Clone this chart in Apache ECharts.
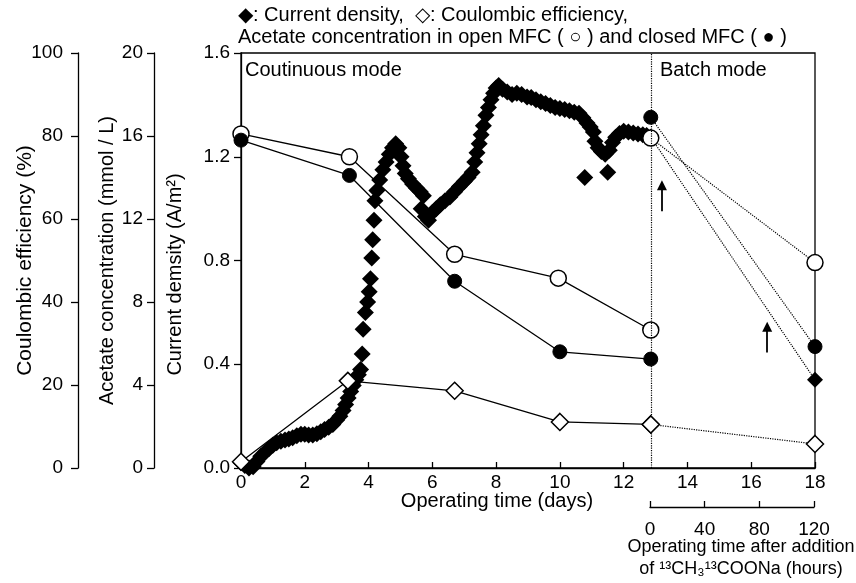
<!DOCTYPE html>
<html>
<head>
<meta charset="utf-8">
<script src="https://cdn.jsdelivr.net/npm/echarts@6/dist/echarts.min.js"></script>
<style>
html, body { margin: 0; padding: 0; background: #fff; }
#chart { width: 856px; height: 583px; }
</style>
</head>
<body>
<div id="chart"></div>
<script>
// current density (A/m2) vs operating time (days)
var currentDensity = [
    [0.0, 0.02], [0.12, 0.01], [0.25, 0.0], [0.38, 0.005], [0.5, 0.025], [0.62, 0.045],
    [0.75, 0.06], [0.88, 0.075], [1.0, 0.088], [1.12, 0.097], [1.25, 0.103], [1.38, 0.108],
    [1.5, 0.112], [1.62, 0.117], [1.75, 0.124], [1.88, 0.13], [2.0, 0.13], [2.12, 0.127],
    [2.25, 0.127], [2.38, 0.132], [2.5, 0.14], [2.62, 0.148], [2.75, 0.157], [2.88, 0.168],
    [3.0, 0.185], [3.1, 0.2], [3.2, 0.222], [3.28, 0.245], [3.36, 0.27], [3.44, 0.295],
    [3.52, 0.318], [3.6, 0.34], [3.68, 0.36], [3.75, 0.38], [3.8, 0.44], [3.83, 0.535],
    [3.9, 0.6], [3.97, 0.64], [4.02, 0.68], [4.06, 0.73], [4.1, 0.81], [4.13, 0.88],
    [4.17, 0.955], [4.2, 1.03], [4.26, 1.07], [4.35, 1.11], [4.45, 1.15], [4.55, 1.18],
    [4.65, 1.21], [4.75, 1.235], [4.85, 1.25], [4.95, 1.235], [5.02, 1.2], [5.08, 1.165],
    [5.15, 1.135], [5.25, 1.115], [5.38, 1.095], [5.5, 1.08], [5.62, 1.065], [5.72, 1.05],
    [5.65, 1.0], [5.78, 0.97], [5.88, 0.955], [6.0, 0.985], [6.12, 1.0], [6.25, 1.015],
    [6.4, 1.03], [6.55, 1.045], [6.7, 1.065], [6.85, 1.085], [7.0, 1.105], [7.12, 1.12],
    [7.25, 1.14], [7.33, 1.18], [7.4, 1.215], [7.47, 1.25], [7.53, 1.285], [7.6, 1.32],
    [7.68, 1.36], [7.76, 1.39], [7.84, 1.42], [7.92, 1.445], [8.0, 1.465], [8.08, 1.475],
    [8.2, 1.46], [8.35, 1.45], [8.5, 1.44], [8.65, 1.445], [8.8, 1.44], [8.97, 1.43],
    [9.1, 1.428], [9.25, 1.42], [9.4, 1.412], [9.55, 1.405], [9.7, 1.398], [9.85, 1.39],
    [10.0, 1.386], [10.15, 1.382], [10.3, 1.377], [10.45, 1.372], [10.6, 1.368], [10.72, 1.35],
    [10.85, 1.33], [10.95, 1.315], [11.05, 1.295], [11.1, 1.26], [11.2, 1.235], [11.3, 1.22],
    [11.42, 1.21], [10.78, 1.12], [11.5, 1.14], [11.55, 1.225], [11.65, 1.255], [11.75, 1.275],
    [11.87, 1.29], [12.0, 1.298], [12.15, 1.295], [12.3, 1.292], [12.45, 1.288], [12.6, 1.285],
    [12.72, 1.282], [12.85, 1.275]
];
var currentDensityBatch = [[12.85, 1.275], [18, 0.34]];

// acetate (mmol/L)
var acetateOpen = [[0, 16.1], [3.4, 15.0], [6.7, 10.3], [9.95, 9.15], [12.85, 6.65]];
var acetateOpenBatch = [[12.85, 15.9], [18, 9.9]];
var acetateClosed = [[0, 15.8], [3.4, 14.1], [6.7, 9.0], [10, 5.6], [12.85, 5.25]];
var acetateClosedBatch = [[12.85, 16.9], [18, 5.85]];

// coulombic efficiency (%)
var coulombicEff = [[0, 1.5], [3.35, 21], [6.7, 18.6], [10, 11.1], [12.85, 10.5]];
var coulombicEffBatch = [[12.85, 10.5], [18, 5.8]];

var batchStartDay = 12.85;
var dayRange = [0, 18, 2];
var hourRange = [0, 120, 40];
// arrows drawn in current density units
var arrows = [
    [[13.2, 0.99], [13.2, 1.09]],
    [[16.5, 0.445], [16.5, 0.545]]
];

var FONT = 'Liberation Sans, Arial, sans-serif';

var labelStyle = { color: '#000', fontSize: 19, fontFamily: FONT };
var dottedLine = { color: '#000', width: 1.2, type: 'dotted' };
var solidLine = { color: '#000', width: 1.3 };

function leftAxis(name, min, max, interval, offset, gap, margin, nameSize, namePad, fmt) {
    return {
        type: 'value', position: 'left', offset: offset,
        min: min, max: max, interval: interval,
        name: name, nameLocation: 'middle', nameGap: gap, nameMoveOverlap: false,
        nameTextStyle: { color: '#000', fontSize: nameSize, fontFamily: FONT, padding: namePad },
        axisLine: { show: true, lineStyle: { color: '#000', width: 1.3 } },
        axisTick: { show: true, inside: false, length: 7, lineStyle: { color: '#000', width: 1.3 } },
        axisLabel: Object.assign({ margin: margin, formatter: fmt }, labelStyle),
        splitLine: { show: false }
    };
}

function text(x, y, str, size, align) {
    return {
        type: 'text', x: x, y: y, silent: true,
        style: {
            text: str, fill: '#000', fontSize: size, fontFamily: FONT,
            align: align || 'left', textAlign: align || 'left',
            verticalAlign: 'middle', textVerticalAlign: 'middle'
        }
    };
}

var openSymbol = { color: '#fff', borderColor: '#000', borderWidth: 1.5, opacity: 1 };
var closedSymbol = { color: '#000', borderColor: '#000', borderWidth: 1, opacity: 1 };

var option = {
    animation: false,
    backgroundColor: '#fff',
    grid: [
        {
            left: 241, right: 41, top: 53, bottom: 115, containLabel: false, outerBoundsMode: 'none',
            show: true, borderColor: '#000', borderWidth: 1.3
        },
        { left: 650, right: 42, bottom: 76, height: 1, containLabel: false, outerBoundsMode: 'none' }
    ],
    xAxis: [
        {
            type: 'value', gridIndex: 0, min: dayRange[0], max: dayRange[1], interval: dayRange[2],
            axisLine: { show: true, lineStyle: { color: '#000', width: 1.3 } },
            axisTick: { show: true, inside: true, length: 6, lineStyle: { color: '#000', width: 1.3 } },
            axisLabel: Object.assign({ margin: 5 }, labelStyle),
            splitLine: { show: false }
        },
        {
            type: 'value', gridIndex: 1, min: hourRange[0], max: hourRange[1], interval: hourRange[2],
            axisLine: { show: true, lineStyle: { color: '#000', width: 1.3 } },
            axisTick: { show: true, inside: true, length: 6, lineStyle: { color: '#000', width: 1.3 } },
            axisLabel: Object.assign({ margin: 13 }, labelStyle),
            splitLine: { show: false }
        }
    ],
    yAxis: [
        leftAxis('Current demsity (A/m\u00b2)', 0, 1.6, 0.4, 0, 56, 11, 20, [0, 28, 0, 0],
            function (v) { return v.toFixed(1); }),
        leftAxis('Acetate concentration (mmol / L)', 0, 20, 4, 87, 37, 11, 20, 0),
        leftAxis('Coulombic efficiency (%)', 0, 100, 20, 163, 42, 15, 21, 0),
        { type: 'value', gridIndex: 1, show: false, min: 0, max: 1 }
    ],
    graphic: [
        text(238, 15, '\u25c6: Current density,  \u25c7: Coulombic efficiency,', 20),
        text(238, 37, 'Acetate concentration in open MFC ( \u25cb ) and closed MFC ( \u25cf )', 20),
        text(245, 70, 'Coutinuous mode', 20),
        text(660, 70, 'Batch mode', 20),
        text(497, 501, 'Operating time (days)', 20, 'center'),
        text(741, 547, 'Operating time after addition', 18, 'center'),
        text(741, 569, 'of \u00b9\u00b3CH\u2083\u00b9\u00b3COONa (hours)', 18, 'center')
    ],
    series: [
        {
            name: 'Current density', type: 'scatter', xAxisIndex: 0, yAxisIndex: 0,
            symbol: 'diamond', symbolSize: 17,
            itemStyle: { color: '#000', opacity: 1 },
            data: currentDensity, z: 2,
            markLine: {
                silent: true, symbol: ['none', 'triangle'], symbolSize: 10,
                label: { show: false },
                lineStyle: { color: '#000', width: 1.8, type: 'solid' },
                data: arrows.map(function (a) { return [{ coord: a[0] }, { coord: a[1] }]; })
            }
        },
        {
            name: 'Current density batch', type: 'line', xAxisIndex: 0, yAxisIndex: 0,
            symbol: 'diamond', symbolSize: 16, showAllSymbol: true,
            itemStyle: { color: '#000', opacity: 1 },
            lineStyle: dottedLine,
            data: [{ value: currentDensityBatch[0], symbol: 'none' }, currentDensityBatch[1]],
            z: 3,
            markLine: {
                silent: true, symbol: 'none', label: { show: false },
                lineStyle: dottedLine,
                data: [{ xAxis: batchStartDay }]
            }
        },
        {
            name: 'Open MFC', type: 'line', xAxisIndex: 0, yAxisIndex: 1,
            symbol: 'circle', symbolSize: 16, showAllSymbol: true,
            itemStyle: openSymbol, lineStyle: solidLine,
            data: acetateOpen, z: 4
        },
        {
            name: 'Open MFC batch', type: 'line', xAxisIndex: 0, yAxisIndex: 1,
            symbol: 'circle', symbolSize: 16, showAllSymbol: true,
            itemStyle: openSymbol, lineStyle: dottedLine,
            data: acetateOpenBatch, z: 4
        },
        {
            name: 'Closed MFC', type: 'line', xAxisIndex: 0, yAxisIndex: 1,
            symbol: 'circle', symbolSize: 14, showAllSymbol: true,
            itemStyle: closedSymbol, lineStyle: solidLine,
            data: acetateClosed, z: 4
        },
        {
            name: 'Closed MFC batch', type: 'line', xAxisIndex: 0, yAxisIndex: 1,
            symbol: 'circle', symbolSize: 14, showAllSymbol: true,
            itemStyle: closedSymbol, lineStyle: dottedLine,
            data: acetateClosedBatch, z: 4
        },
        {
            name: 'Coulombic efficiency', type: 'line', xAxisIndex: 0, yAxisIndex: 2,
            symbol: 'diamond', symbolSize: 17, showAllSymbol: true,
            itemStyle: openSymbol, lineStyle: solidLine,
            data: coulombicEff, z: 5
        },
        {
            name: 'Coulombic efficiency batch', type: 'line', xAxisIndex: 0, yAxisIndex: 2,
            symbol: 'diamond', symbolSize: 17, showAllSymbol: true,
            itemStyle: openSymbol, lineStyle: dottedLine,
            data: coulombicEffBatch, z: 5
        }
    ]
};

var chart = echarts.init(document.getElementById('chart'), null, { renderer: 'canvas' });
chart.setOption(option);
</script>
</body>
</html>
